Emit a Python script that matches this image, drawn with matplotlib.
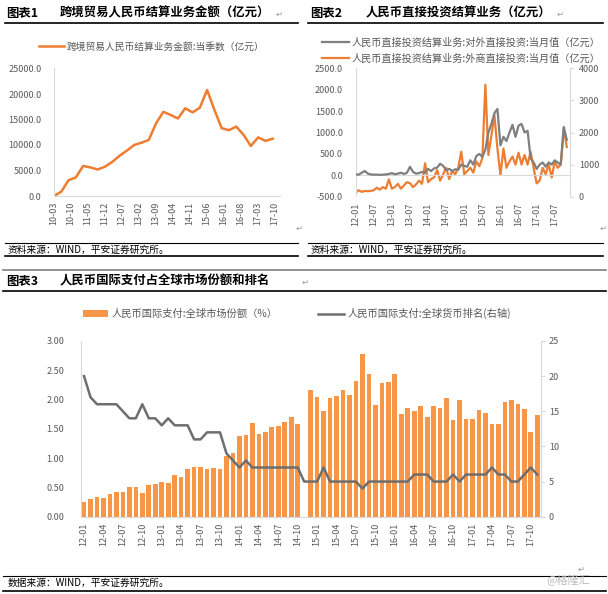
import numpy as np
import matplotlib
matplotlib.use("Agg")
import matplotlib.pyplot as plt
from matplotlib.lines import Line2D

plt.rcParams['font.family'] = ['Noto Sans CJK SC', 'DejaVu Sans']

# ---- chart 1: quarterly cross-border trade settlement (10-03 .. 17-12)
trade_values = [0, 850, 3100, 3650, 5900, 5600, 5200, 5750, 6700, 7900, 8900,
                10000, 10450, 11000, 14250, 16500, 15900, 15200, 17200, 16400,
                17300, 20800, 16900, 13300, 12900, 13600, 12000, 9800, 11500,
                10800, 11250]
trade_ticks = ['10-03', '10-10', '11-05', '11-12', '12-07', '13-02', '13-09',
               '14-04', '14-11', '15-06', '16-01', '16-08', '17-03', '17-10']

# ---- chart 2: monthly direct investment settlement (12-01 .. 17-11)
odi_values = [20, 15, 60, 100, 40, 20, 15, 15, 10, 15, 20, 30,
              50, 25, 40, 60, 30, 60, 200, 80, 40, 50, 80, 60,
              150, 100, 160, 180, 270, 220, 120, 150, 100, 140, 130, 250,
              220, 200, 350, 250, 450, 500, 430, 600, 1000, 1200, 1450, 1550,
              700, 900, 800, 1000, 1180, 900, 1160, 1200, 1000, 1040, 400, 300,
              150, 250, 300, 200, 300, 250, 350, 300, 250, 1130, 830]
fdi_values = [125, 200, 150, 180, 170, 180, 200, 280, 220, 300, 250, 540,
              250, 300, 400, 250, 350, 450, 420, 300, 380, 500, 400, 1040,
              450, 550, 600, 830, 500, 700, 900, 550, 800, 700, 900, 1400,
              700, 800, 900, 750, 1100, 950, 1200, 3490, 1300, 1900, 2540, 1500,
              675, 1500, 900, 1100, 1250, 1000, 1370, 1000, 1300, 1000, 1400, 900,
              415, 500, 900, 700, 1000, 600, 1100, 900, 1000, 2120, 1550]
invest_ticks = ['12-01', '12-07', '13-01', '13-07', '14-01', '14-07',
                '15-01', '15-07', '16-01', '16-07', '17-01', '17-07']

# ---- chart 3: RMB share of global payments and rank (12-01 .. 17-11)
share_values = [0.25, 0.31, 0.34, 0.32, 0.39, 0.42, 0.43, 0.51, 0.50, 0.40, 0.54, 0.56,
                0.60, 0.57, 0.72, 0.68, 0.82, 0.85, 0.85, 0.82, 0.84, 0.82, 1.04, 1.09,
                1.38, 1.40, 1.60, 1.41, 1.45, 1.54, 1.55, 1.62, 1.70, 1.58, np.nan, 2.16,
                2.05, 1.80, 2.02, 2.06, 2.16, 2.07, 2.32, 2.78, 2.43, 1.90, 2.28, 2.30,
                2.43, 1.75, 1.86, 1.80, 1.89, 1.70, 1.89, 1.85, 2.02, 1.65, 1.99, 1.66,
                1.66, 1.82, 1.77, 1.59, 1.59, 1.96, 1.99, 1.92, 1.84, 1.45, 1.74]
rank_values = [20, 17, 16, 16, 16, 16, 15, 14, 14, 16, 14, 14,
               13, 14, 13, 13, 13, 11, 11, 12, 12, 12, 9, 8,
               7, 8, 7, 7, 7, 7, 7, 7, 7, 7, 5, 5,
               5, 7, 5, 5, 5, 5, 5, 4, 5, 5, 5, 5,
               5, 5, 5, 6, 6, 6, 5, 5, 5, 6, 5, 6,
               6, 6, 6, 7, 6, 6, 5, 5, 6, 7, 6]
share_ticks = ['12-01', '12-04', '12-07', '12-10', '13-01', '13-04', '13-07', '13-10',
               '14-01', '14-04', '14-07', '14-10', '15-01', '15-04', '15-07', '15-10',
               '16-01', '16-04', '16-07', '16-10', '17-01', '17-04', '17-07', '17-10']

ORANGE = '#ED7D31'
BAR = '#F79646'
GRAY = '#7F7F7F'
TXT = '#595959'
AXC = '#D9D9D9'

W, H = 608, 594
fig = plt.figure(figsize=(W / 100, H / 100), dpi=100)


def add_ax(x0, y0, x1, y1):
    return fig.add_axes([x0 / W, 1 - y1 / H, (x1 - x0) / W, (y1 - y0) / H])


def text(x, y, s, **kw):
    kw.setdefault('va', 'center')
    fig.text(x / W, 1 - y / H, s, **kw)


def hline(x0, x1, y, lw=1.0, color='black'):
    fig.add_artist(Line2D([x0 / W, x1 / W], [1 - y / H, 1 - y / H], lw=lw, color=color))


def style(ax):
    for s in ['top', 'right']:
        ax.spines[s].set_visible(False)
    ax.spines['left'].set_color(AXC)
    ax.spines['bottom'].set_color(AXC)
    ax.tick_params(colors=TXT, labelsize=6.5, length=0)


# ---------------- headers and footers
text(6, 13, '图表1', fontsize=8.9, fontweight='bold')
text(60, 13, '跨境贸易人民币结算业务金额（亿元）', fontsize=8.9, fontweight='bold')
text(276, 14, '↵', fontsize=6, color='#999999')
hline(5, 298, 22.5, lw=1.2)
text(310, 13, '图表2', fontsize=8.9, fontweight='bold')
text(366, 13, '人民币直接投资结算业务（亿元）', fontsize=8.9, fontweight='bold')
text(557, 14, '↵', fontsize=6, color='#999999')
hline(308, 603, 22.5, lw=1.2)

for x0, x1 in [(5, 298), (308, 603)]:
    hline(x0, x1, 242.5, lw=0.8)
    hline(x0, x1, 256, lw=1.2)
    text(x0 + 3, 249.5, '资料来源：WIND，平安证券研究所。', fontsize=7, style='italic')
text(296, 228, '↵', fontsize=6, color='#999999')
text(600, 228, '↵', fontsize=6, color='#999999')

hline(3, 606, 269.5, lw=1.2, color='#7F7F7F')
text(6, 281, '图表3', fontsize=8.9, fontweight='bold')
text(60, 281, '人民币国际支付占全球市场份额和排名', fontsize=8.9, fontweight='bold')
text(302, 282, '↵', fontsize=6, color='#999999')
hline(3, 606, 291, lw=1.2)

hline(3, 606, 575.5, lw=0.8)
hline(3, 606, 591, lw=1.2)
text(8, 583, '数据来源：WIND，平安证券研究所。', fontsize=7, style='italic')
text(578, 569, '↵', fontsize=6, color='#999999')
text(546, 580, '@格隆汇', fontsize=8, color='#BBBBBB')

# ---------------- chart 1
ax1 = add_ax(54, 68.5, 280, 196)
style(ax1)
months1 = np.arange(len(trade_values)) * 3
ax1.plot(months1, trade_values, color=ORANGE, lw=1.8, solid_joinstyle='round')
ax1.set_xlim(0, 93)
ax1.set_ylim(0, 25000)
ax1.set_yticks(np.arange(0, 25001, 5000))
ax1.set_yticklabels([f'{v:.1f}' for v in np.arange(0, 25001, 5000)])
ax1.set_xticks(np.arange(len(trade_ticks)) * 7)
ax1.set_xticklabels(trade_ticks, rotation=90)
ax1.tick_params(axis='y', pad=9)
ax1.tick_params(axis='x', pad=4)
leg1 = ax1.legend(['跨境贸易人民币结算业务金额:当季数（亿元）'], loc='lower left',
                  bbox_to_anchor=(-0.085, 1.1), frameon=False, fontsize=7,
                  handlelength=2.6, handletextpad=0.25, borderaxespad=0)
for t in leg1.get_texts():
    t.set_color(TXT)

# ---------------- chart 2
ax2 = add_ax(355.7, 68.3, 569.8, 196.7)
ax2r = ax2.twinx()
style(ax2)
ax2.spines['left'].set_visible(False)
ax2.spines['bottom'].set_visible(False)
ax2r.spines['top'].set_visible(False)
ax2r.spines['left'].set_visible(False)
ax2r.spines['bottom'].set_visible(False)
ax2r.spines['right'].set_color(AXC)
ax2r.tick_params(colors=TXT, labelsize=6.5, length=3, direction='out', color=AXC)
months2 = np.arange(len(odi_values))
ax2.axhline(0, color=AXC, lw=0.8, zorder=1)
ax2.axvline(0, color=AXC, lw=0.8, zorder=1)
l_odi, = ax2.plot(months2, odi_values, color=GRAY, lw=1.6, zorder=3)
l_fdi, = ax2r.plot(months2, fdi_values, color=ORANGE, lw=1.6, zorder=3)
ax2.set_zorder(ax2r.get_zorder() + 1)
ax2.patch.set_visible(False)
ax2.set_xlim(0, 71)
ax2.set_ylim(-500, 2500)
ax2r.set_ylim(0, 4000)
ax2.set_yticks(np.arange(-500, 2501, 500))
ax2.set_yticklabels([f'{v:.1f}' for v in np.arange(-500, 2501, 500)])
ax2r.set_yticks(np.arange(0, 4001, 1000))
ax2.set_xticks(np.arange(len(invest_ticks)) * 6)
ax2.set_xticklabels(invest_ticks, rotation=90)
ax2.tick_params(axis='y', pad=9)
ax2.tick_params(axis='x', pad=4)
leg2 = ax2.legend([l_odi, l_fdi],
                  ['人民币直接投资结算业务:对外直接投资:当月值（亿元）',
                   '人民币直接投资结算业务:外商直接投资:当月值（亿元）'],
                  loc='lower left', bbox_to_anchor=(-0.175, 1.005), frameon=False,
                  fontsize=7.3, handlelength=2.6, handletextpad=0.3,
                  labelspacing=0.55, borderaxespad=0)
for t in leg2.get_texts():
    t.set_color(TXT)

# ---------------- chart 3
ax3 = add_ax(80.8, 341, 540.5, 516.7)
ax3r = ax3.twinx()
style(ax3)
ax3r.spines['top'].set_visible(False)
ax3r.spines['left'].set_visible(False)
ax3r.spines['bottom'].set_visible(False)
ax3r.spines['right'].set_color(AXC)
ax3r.tick_params(colors=TXT, labelsize=6.5, length=3, direction='out', color=AXC)
idx3 = np.arange(len(share_values))
bars = ax3.bar(idx3, share_values, width=0.72, color=BAR, zorder=2)
l_rank, = ax3r.plot(idx3, rank_values, color='#6E6E6E', lw=1.8, zorder=3)
ax3.set_xlim(-0.5, 70.5)
ax3.set_ylim(0, 3)
ax3r.set_ylim(0, 25)
ax3.set_yticks(np.arange(0, 3.01, 0.5))
ax3.set_yticklabels([f'{v:.2f}' for v in np.arange(0, 3.01, 0.5)])
ax3r.set_yticks(np.arange(0, 26, 5))
ax3.set_xticks(np.arange(len(share_ticks)) * 3)
ax3.set_xticklabels(share_ticks, rotation=90)
ax3.tick_params(axis='y', pad=12)
ax3.tick_params(axis='x', pad=4)
ax3r.tick_params(axis='y', pad=3)
leg3 = ax3.legend([bars, l_rank],
                  ['人民币国际支付:全球市场份额（%）', '人民币国际支付:全球货币排名(右轴)'],
                  loc='lower left', bbox_to_anchor=(-0.005, 1.1), frameon=False,
                  ncol=2, fontsize=7.4, handlelength=2.5, handleheight=0.6,
                  handletextpad=0.35, columnspacing=3.9, borderaxespad=0)
for t in leg3.get_texts():
    t.set_color(TXT)

fig.savefig('out.png', dpi=100)
